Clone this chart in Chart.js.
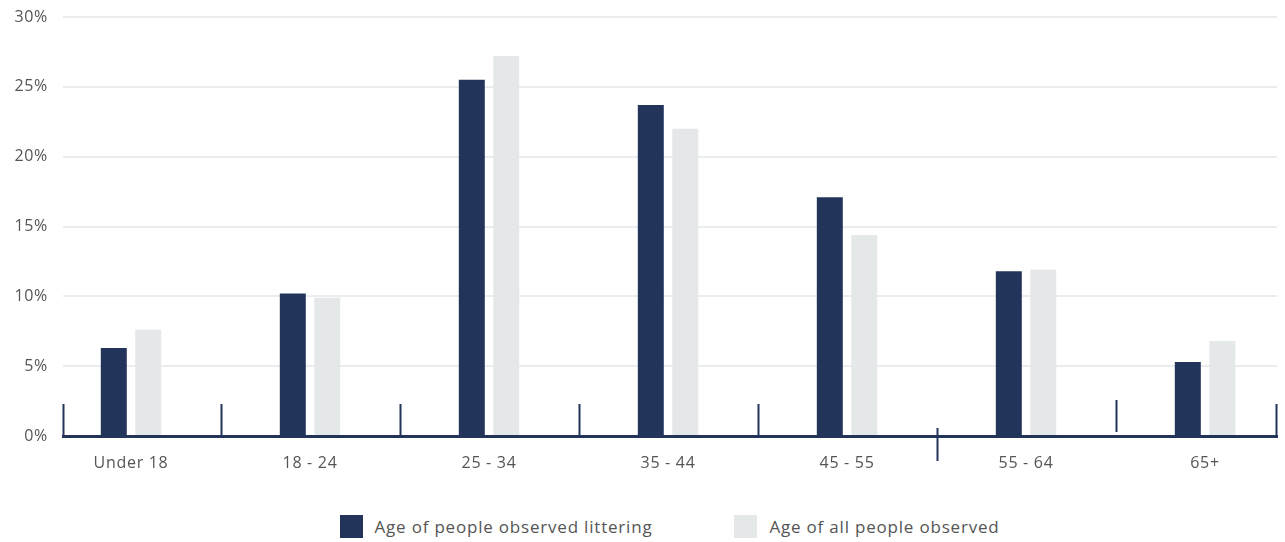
<!DOCTYPE html>
<html>
<head>
<meta charset="utf-8">
<script src="https://cdn.jsdelivr.net/npm/chart.js@4/dist/chart.umd.min.js"></script>
<style>
  html, body { margin: 0; padding: 0; background: #fff; }
  #wrap { width: 1285px; height: 490px; position: relative; }
  #legend {
    display: flex; justify-content: center; gap: 82px;
    margin-top: 25px; padding-left: 54px; width: 1231px;
    font-family: "Open Sans", sans-serif; font-size: 17px; color: #555;
    letter-spacing: 0.8px;
  }
  .item { display: flex; align-items: center; gap: 12px; }
  .box { width: 23px; height: 23px; display: inline-block; }
</style>
</head>
<body>
<div id="wrap"><canvas id="ageChart"></canvas></div>
<div id="legend"></div>
<script>
// Chart data
const categories = ["Under 18", "18 - 24", "25 - 34", "35 - 44", "45 - 55", "55 - 64", "65+"];
const littering = [6.3, 10.2, 25.5, 23.7, 17.1, 11.8, 5.3];
const allObserved = [7.6, 9.9, 27.2, 22.0, 14.4, 11.9, 6.8];
const yTicks = [0, 5, 10, 15, 20, 25, 30];

const seriesNames = ["Age of people observed littering", "Age of all people observed"];
const seriesColors = ["#22345a", "#e5e8e9"];

const navy = "#22345a";
const fontFamily = "'Open Sans', sans-serif";

// wider letter spacing for the axis text
const spacing = {
  id: "spacing",
  beforeDraw(chart) {
    chart.ctx.letterSpacing = "0.7px";
  },
};

// little vertical marks between the groups on the baseline
const groupMarks = {
  id: "groupMarks",
  afterDatasetsDraw(chart) {
    const x = chart.scales.x;
    const y = chart.scales.y;
    const ctx = chart.ctx;
    const base = y.getPixelForValue(0);
    const marks = [
      { x: chart.chartArea.left, up: 32, down: 0 },
      { x: x.getPixelForValue(0.5), up: 32, down: 0 },
      { x: x.getPixelForValue(1.5), up: 32, down: 0 },
      { x: x.getPixelForValue(2.5), up: 32, down: 0 },
      { x: x.getPixelForValue(3.5), up: 32, down: 0 },
      { x: x.getPixelForValue(4.5), up: 8, down: 25 },
      { x: x.getPixelForValue(5.5), up: 36, down: -4 },
      { x: chart.chartArea.right - 1, up: 32, down: 0 },
    ];
    ctx.save();
    ctx.strokeStyle = navy;
    ctx.lineWidth = 2;
    marks.forEach((m) => {
      ctx.beginPath();
      ctx.moveTo(Math.round(m.x) + 0.5, base - m.up);
      ctx.lineTo(Math.round(m.x) + 0.5, base + m.down);
      ctx.stroke();
    });
    ctx.restore();
  },
};

const ctx = document.getElementById("ageChart").getContext("2d");

new Chart(ctx, {
  type: "bar",
  data: {
    datasets: [
      {
        label: seriesNames[0],
        data: littering.map((v, i) => ({ x: i, y: v })),
        backgroundColor: seriesColors[0],
      },
      {
        label: seriesNames[1],
        data: allObserved.map((v, i) => ({ x: i, y: v })),
        backgroundColor: seriesColors[1],
      },
    ],
  },
  options: {
    responsive: true,
    maintainAspectRatio: false,
    animation: false,
    categoryPercentage: 0.385,
    barPercentage: 0.754,
    layout: { padding: { top: 17, right: 8, left: 0, bottom: 0 } },
    scales: {
      x: {
        type: "linear",
        offset: false,
        min: -0.38,
        max: 6.402,
        afterBuildTicks: (scale) => {
          scale.ticks = categories.map((c, i) => ({ value: i }));
        },
        afterFit: (scale) => {
          scale.height = 54;
        },
        grid: { display: false, drawTicks: false },
        border: { display: true, color: navy, width: 3 },
        ticks: {
          padding: 18,
          autoSkip: false,
          maxRotation: 0,
          color: "#555",
          font: { family: fontFamily, size: 16 },
          callback: (v) => categories[v],
        },
      },
      y: {
        min: 0,
        max: 30,
        afterBuildTicks: (scale) => {
          scale.ticks = yTicks.map((v) => ({ value: v }));
        },
        afterFit: (scale) => {
          scale.width = 63;
          scale.paddingTop = 0;
        },
        grid: {
          drawTicks: false,
          lineWidth: 2,
          color: (c) => (c.tick && c.tick.value === 0 ? "rgba(0,0,0,0)" : "#eaeced"),
        },
        border: { display: false },
        ticks: {
          padding: 15,
          color: "#555",
          font: { family: fontFamily, size: 16 },
          callback: (v) => v + "%",
        },
      },
    },
    plugins: {
      legend: { display: false },
      tooltip: { enabled: false },
    },
  },
  plugins: [spacing, groupMarks],
});

// legend below the chart
const legend = document.getElementById("legend");
seriesNames.forEach((name, i) => {
  const item = document.createElement("div");
  item.className = "item";
  const box = document.createElement("span");
  box.className = "box";
  box.style.background = seriesColors[i];
  const label = document.createElement("span");
  label.textContent = name;
  item.appendChild(box);
  item.appendChild(label);
  legend.appendChild(item);
});
</script>
</body>
</html>
